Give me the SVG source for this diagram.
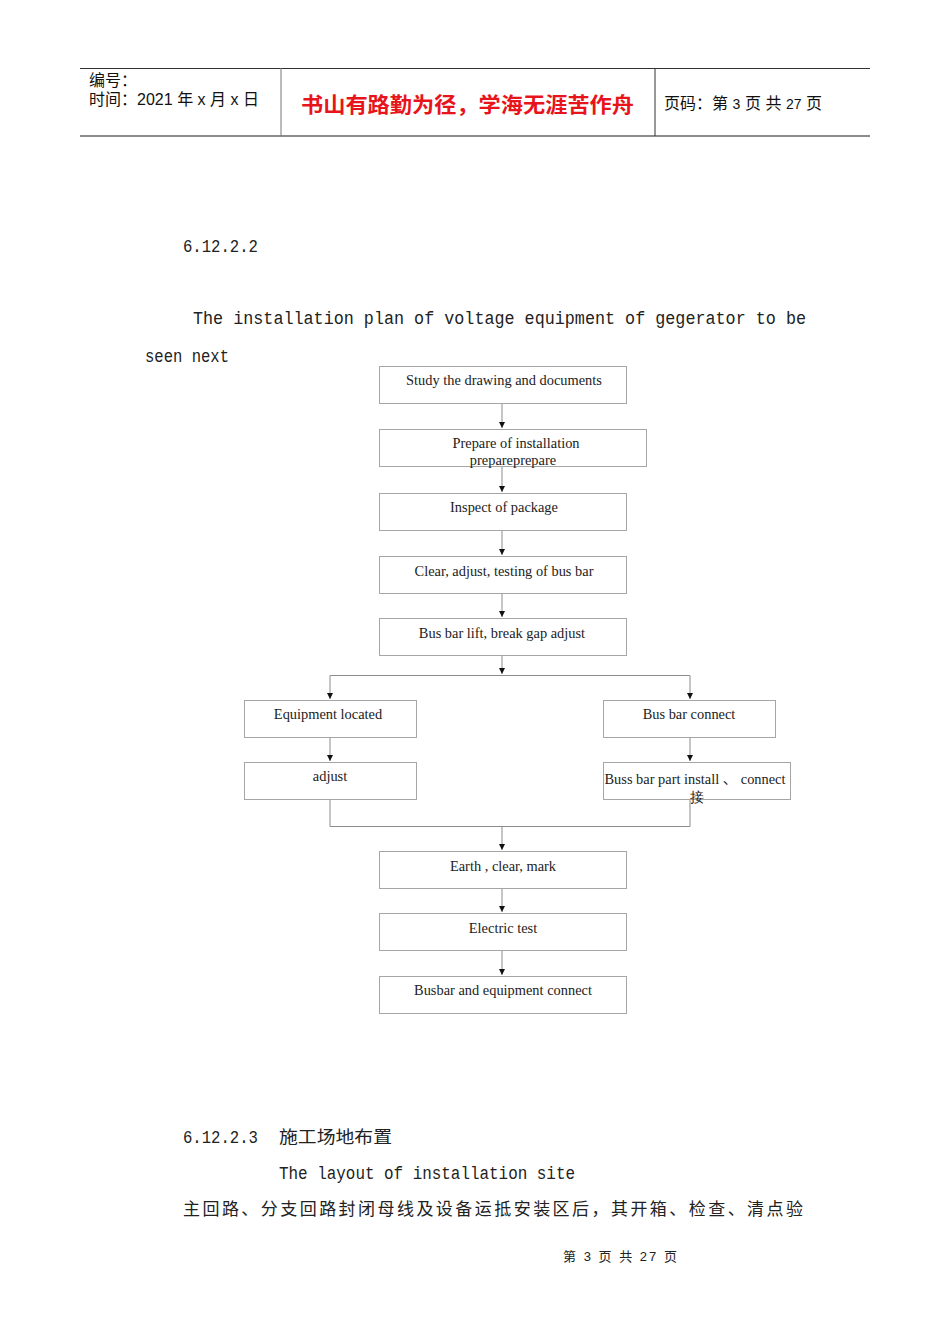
<svg xmlns="http://www.w3.org/2000/svg" width="950" height="1344" viewBox="0 0 950 1344">
<defs>
<style>
.box{fill:#fff;stroke:#a6a6a6;stroke-width:1}
.lbl{font-family:"Liberation Serif",serif;font-size:14.4px;fill:#222;text-anchor:middle}
.con{fill:none;stroke:#8c8c8c;stroke-width:1}
.mono{font-family:"Liberation Mono","Noto Sans CJK SC",monospace;font-size:19px;fill:#222}
.cjk{font-family:"Noto Sans CJK SC",sans-serif;fill:#222}
.hdr{font-family:"Liberation Sans","Noto Sans CJK SC",sans-serif;font-size:16px;fill:#111}
</style>
<marker id="arr" viewBox="0 0 6 6" markerWidth="6" markerHeight="6" refX="6" refY="3" orient="auto" markerUnits="userSpaceOnUse">
<path d="M0,0 L6,3 L0,6 Z" fill="#111"/>
</marker>
</defs>
<rect width="950" height="1344" fill="#fff"/>

<g id="header">
<line x1="80" y1="68.5" x2="870" y2="68.5" stroke="#333" stroke-width="1"/>
<line x1="80" y1="136" x2="870" y2="136" stroke="#666" stroke-width="1.5"/>
<line x1="281" y1="68" x2="281" y2="136" stroke="#777" stroke-width="1"/>
<line x1="655" y1="68" x2="655" y2="136" stroke="#333" stroke-width="1"/>
<text class="hdr" x="89" y="86">编号：</text>
<text class="hdr" x="89" y="105" textLength="170" lengthAdjust="spacing">时间：2021 年 x 月 x 日</text>
<text x="301" y="112" font-family="'Noto Sans CJK SC',sans-serif" font-size="21" font-weight="bold" fill="#e8141b" textLength="333" lengthAdjust="spacingAndGlyphs">书山有路勤为径，学海无涯苦作舟</text>
<text class="hdr" x="664" y="109" textLength="158" lengthAdjust="spacing">页码：第 <tspan font-size="14">3</tspan> 页  共 <tspan font-size="14">27</tspan> 页</text>
</g>

<text class="mono" x="183" y="252" textLength="75" lengthAdjust="spacingAndGlyphs">6.12.2.2</text>
<text class="mono" x="193" y="324" textLength="613" lengthAdjust="spacingAndGlyphs">The installation plan of voltage equipment of gegerator to be</text>
<text class="mono" x="145" y="362" textLength="84" lengthAdjust="spacingAndGlyphs">seen next</text>

<g id="connectors">
<line class="con" x1="502" y1="404" x2="502" y2="428" marker-end="url(#arr)"/>
<line class="con" x1="502" y1="467" x2="502" y2="492" marker-end="url(#arr)"/>
<line class="con" x1="502" y1="531" x2="502" y2="555" marker-end="url(#arr)"/>
<line class="con" x1="502" y1="594" x2="502" y2="617" marker-end="url(#arr)"/>
<line class="con" x1="502" y1="656" x2="502" y2="674" marker-end="url(#arr)"/>
<polyline class="con" points="330,676 330,675.5 690,675.5 690,676"/>
<line class="con" x1="330" y1="676" x2="330" y2="699" marker-end="url(#arr)"/>
<line class="con" x1="690" y1="676" x2="690" y2="699" marker-end="url(#arr)"/>
<line class="con" x1="330" y1="737" x2="330" y2="761" marker-end="url(#arr)"/>
<line class="con" x1="690" y1="737" x2="690" y2="761" marker-end="url(#arr)"/>
<polyline class="con" points="330,799 330,826.5 690,826.5 690,799"/>
<line class="con" x1="502" y1="827" x2="502" y2="850" marker-end="url(#arr)"/>
<line class="con" x1="502" y1="888" x2="502" y2="912" marker-end="url(#arr)"/>
<line class="con" x1="502" y1="951" x2="502" y2="975" marker-end="url(#arr)"/>
</g>

<g id="n1"><rect class="box" x="379.5" y="366.5" width="247" height="37"/><text class="lbl" x="504" y="385">Study the drawing and documents</text></g>
<g id="n2"><rect class="box" x="379.5" y="429.5" width="267" height="37"/><text class="lbl" x="516" y="448">Prepare of installation</text><text class="lbl" x="513" y="465">prepareprepare</text></g>
<g id="n3"><rect class="box" x="379.5" y="493.5" width="247" height="37"/><text class="lbl" x="504" y="512">Inspect of package</text></g>
<g id="n4"><rect class="box" x="379.5" y="556.5" width="247" height="37"/><text class="lbl" x="504" y="576">Clear, adjust, testing of bus bar</text></g>
<g id="n5"><rect class="box" x="379.5" y="618.5" width="247" height="37"/><text class="lbl" x="502" y="638">Bus bar lift, break gap adjust</text></g>
<g id="n6"><rect class="box" x="244.5" y="700.5" width="172" height="37"/><text class="lbl" x="328" y="719">Equipment located</text></g>
<g id="n7"><rect class="box" x="603.5" y="700.5" width="172" height="37"/><text class="lbl" x="689" y="719">Bus bar connect</text></g>
<g id="n8"><rect class="box" x="244.5" y="762.5" width="172" height="37"/><text class="lbl" x="330" y="781">adjust</text></g>
<g id="n9"><rect class="box" x="603.5" y="762.5" width="187" height="37"/><text class="lbl" x="695" y="784" textLength="181" lengthAdjust="spacing">Buss bar part install <tspan font-family="'Noto Sans CJK SC',sans-serif">、</tspan> connect</text><text class="lbl" x="697" y="802" font-family="'Noto Sans CJK SC',sans-serif">接</text></g>
<g id="n10"><rect class="box" x="379.5" y="851.5" width="247" height="37"/><text class="lbl" x="503" y="871">Earth , clear, mark</text></g>
<g id="n11"><rect class="box" x="379.5" y="913.5" width="247" height="37"/><text class="lbl" x="503" y="933">Electric test</text></g>
<g id="n12"><rect class="box" x="379.5" y="976.5" width="247" height="37"/><text class="lbl" x="503" y="995">Busbar and equipment connect</text></g>

<text class="mono" x="183" y="1143" textLength="75" lengthAdjust="spacingAndGlyphs">6.12.2.3</text>
<text class="cjk" x="279" y="1143" font-size="17" textLength="113" lengthAdjust="spacingAndGlyphs">施工场地布置</text>
<text class="mono" x="279" y="1179" textLength="296" lengthAdjust="spacingAndGlyphs">The layout of installation site</text>
<text class="cjk" x="183" y="1215" font-size="17" textLength="620" lengthAdjust="spacing">主回路、分支回路封闭母线及设备运抵安装区后，其开箱、检查、清点验</text>
<text x="563" y="1261" font-family="'Liberation Sans','Noto Sans CJK SC',sans-serif" font-size="13" fill="#222" textLength="114" lengthAdjust="spacing">第 3 页 共 27 页</text>
</svg>
